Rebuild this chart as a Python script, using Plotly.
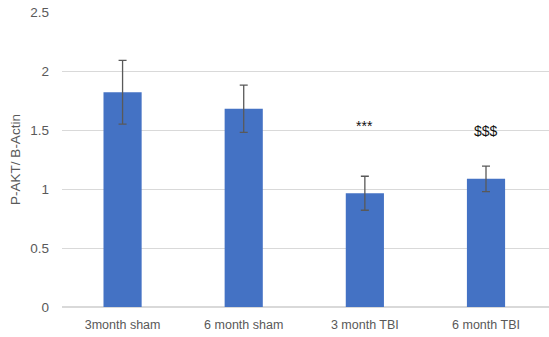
import plotly.graph_objects as go

categories = ["3month sham", "6 month sham", "3 month TBI", "6 month TBI"]
values = [1.82, 1.68, 0.964, 1.086]
errors = [0.27, 0.2, 0.144, 0.108]
marks = ["", "", "***", "$$$"]
mark_y = [None, None, 1.53, 1.49]

fig = go.Figure()
fig.add_trace(go.Bar(
    x=categories, y=values,
    width=0.315,
    marker=dict(color="#4472C4", line=dict(width=0)),
    error_y=dict(type="data", array=errors, visible=True,
                 color="#595959", thickness=1.3, width=4),
))
for c, m, yy in zip(categories, marks, mark_y):
    if m:
        fig.add_annotation(x=c, y=yy, text=m, showarrow=False,
                           font=dict(size=14, color="#111111", family="Liberation Sans"),
                           yanchor="middle")

fig.update_layout(
    width=549, height=337,
    margin=dict(l=62, r=0, t=12, b=30),
    plot_bgcolor="white", paper_bgcolor="white",
    showlegend=False,
    font=dict(family="Liberation Sans", size=13, color="#595959"),
    bargap=0.5,
)
fig.update_xaxes(range=[-0.5, 3.52], showgrid=False, showline=True,
                 linecolor="#D9D9D9", linewidth=1, ticks="",
                 ticklabelstandoff=6,
                 tickfont=dict(size=12.5, color="#595959"))
fig.update_yaxes(range=[0, 2.5], dtick=0.5, showgrid=True, gridcolor="#D9D9D9",
                 gridwidth=1, zeroline=True, zerolinecolor="#D9D9D9",
                 tickfont=dict(size=13.5, color="#595959"), ticks="",
                 ticklabelstandoff=12,
                 title=dict(text="P-AKT/ B-Actin", font=dict(size=13.5, color="#595959"),
                            standoff=6))

fig.write_html("out.html")
